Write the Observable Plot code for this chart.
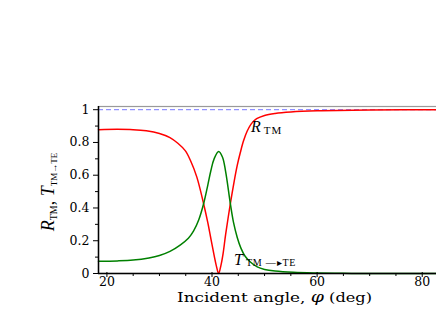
<!DOCTYPE html>
<html>
<head>
<meta charset="utf-8">
<script src="https://cdn.jsdelivr.net/npm/d3@7"></script>
<script src="https://cdn.jsdelivr.net/npm/@observablehq/plot@0.6"></script>
<style>
  html, body { margin: 0; padding: 0; background: #fff; overflow: hidden; width: 436px; height: 313px; }
  #chart { width: 436px; height: 313px; overflow: hidden; }
  #chart svg { max-width: none !important; }
</style>
</head>
<body>
<div id="chart"></div>
<script>
// Data
const angleR = [18.4, 22, 25, 27.5, 30, 32, 33.5, 34.9, 35.9, 37.1, 38.4, 39.2, 39.8, 40.4, 40.8, 41.26, 41.7, 42.1, 42.6, 43.49, 44.2, 44.8, 45.4, 46.0, 46.7, 47.5, 48.5, 50, 52, 55, 60, 70, 85];
const reflTM = [0.878, 0.88, 0.878, 0.871, 0.855, 0.83, 0.795, 0.75, 0.69, 0.59, 0.426, 0.31, 0.21, 0.11, 0.05, 0.0, 0.05, 0.12, 0.24, 0.426, 0.56, 0.66, 0.74, 0.81, 0.87, 0.915, 0.945, 0.965, 0.977, 0.986, 0.993, 0.998, 1.0];
const angleT = [18.4, 22, 25, 28, 30, 32, 34, 35.5, 36.5, 37.5, 38.4, 39.2, 39.8, 40.4, 41.26, 42.0, 42.6, 43.49, 44.1, 44.8, 45.5, 46.3, 47.3, 48.6, 50, 52, 55.5, 60, 65, 70, 85];
const transTMTE = [0.075, 0.077, 0.082, 0.095, 0.11, 0.135, 0.175, 0.215, 0.26, 0.33, 0.426, 0.54, 0.63, 0.70, 0.745, 0.71, 0.62, 0.426, 0.31, 0.22, 0.155, 0.105, 0.07, 0.04, 0.025, 0.015, 0.007, 0.003, 0.001, 0.0, 0.0];
const xDomain = [18.4, 85];
const yDomain = [0, 1.0195];
const xMajorTicks = [20, 40, 60, 80];
const xMinorTicks = [25, 30, 35, 45, 50, 55, 65, 70, 75, 85];
const yMajorTicks = [0, 0.2, 0.4, 0.6, 0.8, 1];
const yMinorTicks = [0.1, 0.3, 0.5, 0.7, 0.9];
const yTickLabels = ["0", "0.2", "0.4", "0.6", "0.8", "1"];
const limitLine = [1];

const R = angleR.map((a, i) => ({angle: a, value: reflTM[i]}));
const T = angleT.map((a, i) => ({angle: a, value: transTMTE[i]}));

const tickFont = {fontFamily: "DejaVu Serif", fontSize: 12.5};

const chart = Plot.plot({
  width: 448,
  height: 313,
  marginLeft: 98,
  marginRight: 0,
  marginTop: 106,
  marginBottom: 40,
  style: {fontFamily: "DejaVu Serif", fontSize: "12.5px", color: "#000", background: "#fff", maxWidth: "none"},
  x: {domain: xDomain},
  y: {domain: yDomain},
  marks: [
    Plot.frame({stroke: "#9a9a9a", strokeWidth: 1.2}),
    Plot.ruleY(limitLine, {stroke: "#7878ff", strokeWidth: 1, strokeDasharray: "5,3"}),
    Plot.line(R, {x: "angle", y: "value", stroke: "#ff0000", strokeWidth: 1.5, curve: "catmull-rom"}),
    Plot.line(T, {x: "angle", y: "value", stroke: "#008000", strokeWidth: 1.5, curve: "catmull-rom"}),
    Plot.axisX({ticks: xMajorTicks, tickSize: 5, tickPadding: 0, dy: -1, label: null, tickFormat: d => String(d), ...tickFont}),
    Plot.axisX({ticks: xMinorTicks, tickSize: 3, label: null, text: null}),
    Plot.axisY({ticks: yMajorTicks, tickSize: 5, tickPadding: 4, label: null, tickFormat: (d, i) => yTickLabels[i], ...tickFont}),
    Plot.axisY({ticks: yMinorTicks, tickSize: 3, label: null, text: null}),
    Plot.ruleX([xDomain[0]], {stroke: "#000", strokeWidth: 1.5}),
    Plot.ruleY([0], {stroke: "#000", strokeWidth: 1.5})
  ]
});
document.getElementById("chart").appendChild(chart);

// Rich-text annotations positioned through the plot's own scales
const sx = chart.scale("x"), sy = chart.scale("y");
const svg = d3.select(chart);

function rich(g, parts) {
  parts.forEach(p => {
    const t = g.append("tspan").text(p.t);
    if (p.italic) t.attr("font-style", "italic");
    if (p.size) t.attr("font-size", p.size);
    if (p.dy) t.attr("dy", p.dy);
    if (p.ls) t.attr("letter-spacing", p.ls);
    if (p.dx) t.attr("dx", p.dx);
  });
}

// R_TM label
const rl = svg.append("text")
  .attr("x", sx.apply(50.5)).attr("y", sy.apply(0.86))
  .attr("font-family", "Liberation Serif").attr("font-size", 16).attr("fill", "#000");
rich(rl, [{t: "R", italic: true}, {t: "TM", size: 11, dy: 2, dx: 3, ls: 1}]);

// T_TM->TE label
const tl = svg.append("text")
  .attr("x", sx.apply(50.2)).attr("y", sy.apply(0.05))
  .attr("font-family", "Liberation Serif").attr("font-size", 16).attr("fill", "#000");
rich(tl, [{t: "T", italic: true}, {t: "TM \u2014\u25B8TE", size: 10, dy: 1, dx: 3, ls: 0.8}]);

// Y axis title
const yt = svg.append("text")
  .attr("transform", "translate(54,192) rotate(-90)")
  .attr("text-anchor", "middle")
  .attr("font-family", "Liberation Serif").attr("font-size", 18).attr("fill", "#000");
rich(yt, [{t: "R", italic: true}, {t: "TM", size: 10, dy: 3}, {t: ", ", dy: -3}, {t: "T", italic: true}, {t: "TM\u2192TE", size: 9, dy: 3}]);

// X axis title
const xt = svg.append("text")
  .attr("x", 177).attr("y", 302)
  .attr("text-anchor", "start")
  .attr("textLength", 195).attr("lengthAdjust", "spacingAndGlyphs")
  .attr("font-family", "DejaVu Serif").attr("font-size", 12.5).attr("fill", "#000");
rich(xt, [{t: "Incident angle, "}, {t: "\u03C6", italic: true, size: 14}, {t: " (deg)", size: 12}]);
</script>
</body>
</html>
